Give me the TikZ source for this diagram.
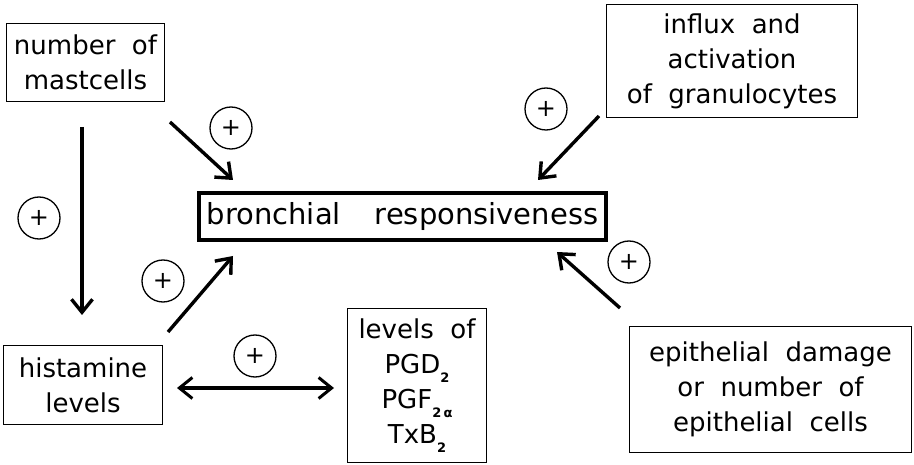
\documentclass[tikz,border=0pt]{standalone}
\usepackage{fontspec}
\setmainfont{DejaVu Sans}[WordSpace=2]
\usetikzlibrary{arrows.meta}

\newcommand{\subtxt}[1]{\raisebox{-0.34em}{\fontsize{13}{13}\selectfont\bfseries #1}}

\begin{document}
\begin{tikzpicture}[x=1pt,y=-1pt,
  box/.style={draw, line width=1.5pt, inner sep=0pt, align=center,
    font=\fontsize{26}{35}\selectfont},
  mainbox/.style={draw, line width=4pt, inner sep=0pt,
    font=\fontsize{29}{34}\selectfont},
  plusmark/.style={circle, draw, line width=1.3pt, minimum size=42pt,
    inner sep=0pt, font=\fontsize{24}{24}\selectfont},
  barb/.style={Straight Barb[length=13pt,width=21pt]},
  link/.style={line width=3.4pt, -{Straight Barb[length=13pt,width=21pt]}},
  duallink/.style={line width=3pt,
    {Straight Barb[length=13pt,width=21pt]}-{Straight Barb[length=13pt,width=21pt]}}]

  \useasboundingbox (0,0) rectangle (914,465);

  % boxes
  \node[mainbox, minimum width=407pt, minimum height=47pt] (bronch) at (402.5,216.5)
    {bronchial\hspace{34pt}responsiveness};
  \node[box, minimum width=158pt, minimum height=78pt] (mast) at (85.5,62.5)
    {number of\\mastcells};
  \node[box, minimum width=251pt, minimum height=113pt] (influx) at (732,61)
    {influx and\\activation\\of granulocytes};
  \node[box, minimum width=159pt, minimum height=79pt] (hist) at (83,385)
    {histamine\\levels};
  \node[box, minimum width=139pt, minimum height=154pt] (prost) at (417,385.5)
    {levels of\\PGD\subtxt{2}\\PGF\subtxt{2\,α}\\TxB\subtxt{2}};
  \node[box, minimum width=282pt, minimum height=126pt] (epith) at (770.5,389.5)
    {epithelial damage\\or number of\\epithelial cells};

  % connector ends
  \coordinate (mastdown) at (82,127);
  \coordinate (histup) at (82,315);
  \coordinate (mastdiag) at (170,122);
  \coordinate (bronchnw) at (233,180);
  \coordinate (influxdiag) at (599,116);
  \coordinate (bronchne) at (538,180);
  \coordinate (histdiag) at (168,332);
  \coordinate (bronchsw) at (233,256);
  \coordinate (epithdiag) at (620,308);
  \coordinate (bronchse) at (557,252);
  \coordinate (histright) at (177,388);
  \coordinate (prostleft) at (334,388);

  % connectors
  \draw[link] (mastdown) -- (histup);
  \draw[link] (mastdiag) -- (bronchnw);
  \draw[link] (influxdiag) -- (bronchne);
  \draw[link] (histdiag) -- (bronchsw);
  \draw[link] (epithdiag) -- (bronchse);
  \draw[duallink] (histright) -- (prostleft);

  % plus signs
  \node[plusmark] (p1) at (39,218) {+};
  \node[plusmark] (p2) at (231,128) {+};
  \node[plusmark] (p3) at (546,109) {+};
  \node[plusmark] (p4) at (163,281) {+};
  \node[plusmark] (p5) at (255,356) {+};
  \node[plusmark] (p6) at (629,262) {+};
\end{tikzpicture}
\end{document}
